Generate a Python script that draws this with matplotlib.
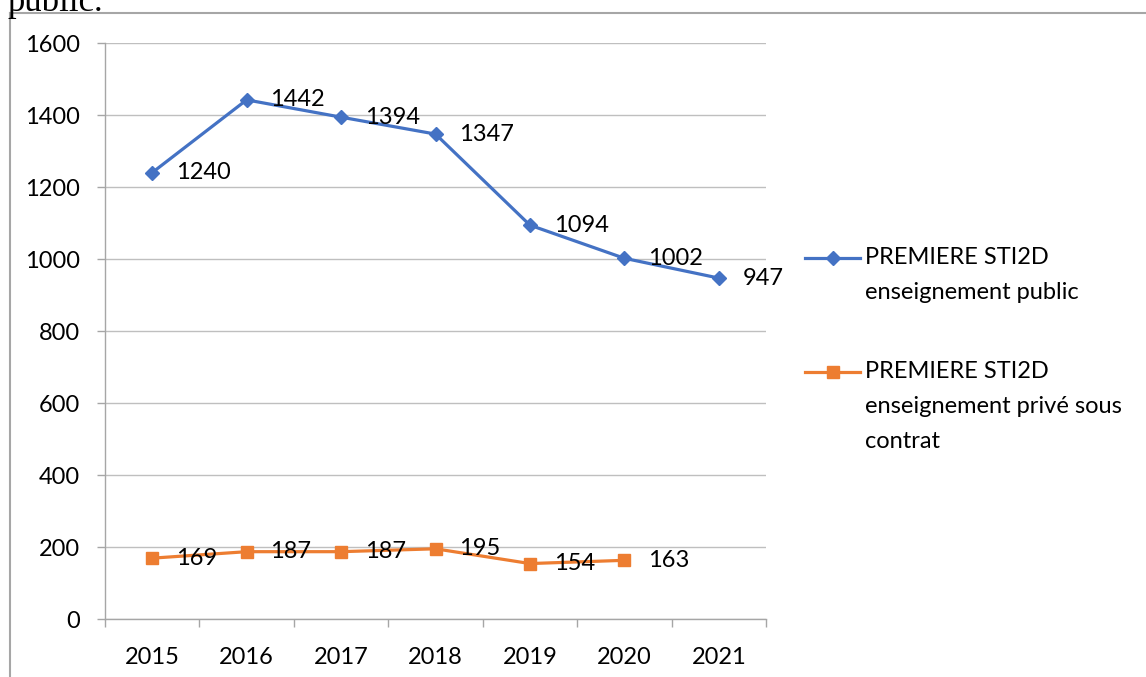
import matplotlib.pyplot as plt
from matplotlib.lines import Line2D

years = ['2015', '2016', '2017', '2018', '2019', '2020', '2021']
public = [1240, 1442, 1394, 1347, 1094, 1002, 947]
prive = [169, 187, 187, 195, 154, 163]
label_public = ['PREMIERE STI2D', 'enseignement public']
label_prive = ['PREMIERE STI2D', 'enseignement privé sous', 'contrat']

blue = '#4472C4'
orange = '#ED7D31'
grid_col = '#BFBFBF'
axis_col = '#A6A6A6'

plt.rcParams['font.family'] = ['Lato', 'DejaVu Sans']
fs = 17

W, H = 1146, 677
fig = plt.figure(figsize=(W / 100, H / 100), dpi=100)
ax = fig.add_axes([105 / W, 1 - 619 / H, (766 - 105) / W, (619 - 43) / H])

x_pub = list(range(len(public)))
x_pri = list(range(len(prive)))
ax.plot(x_pub, public, color=blue, lw=2.3, marker='D', ms=7.5, zorder=3)
ax.plot(x_pri, prive, color=orange, lw=2.3, marker='s', ms=8.5, zorder=3)

for xi, v in zip(x_pub, public):
    ax.annotate(str(v), (xi, v), xytext=(17, 0), textcoords='offset points',
                va='center', ha='left', fontsize=fs, color='black')
for xi, v in zip(x_pri, prive):
    ax.annotate(str(v), (xi, v), xytext=(17, 0), textcoords='offset points',
                va='center', ha='left', fontsize=fs, color='black')

ax.set_xlim(-0.5, len(years) - 0.5)
ax.set_ylim(0, 1600)
ax.set_yticks(range(0, 1601, 200))
ax.set_xticks([i - 0.5 for i in range(len(years) + 1)])
ax.set_xticklabels([])
ax.set_xticks(range(len(years)), minor=True)
ax.set_xticklabels(years, minor=True)
ax.tick_params(axis='x', which='major', length=6, color=axis_col, width=1)
ax.tick_params(axis='x', which='minor', length=0, labelsize=fs, pad=20)
ax.tick_params(axis='y', length=6, color=axis_col, width=1, labelsize=fs, pad=12)
ax.grid(axis='y', color=grid_col, lw=1)
ax.set_axisbelow(True)
for s in ['top', 'right']:
    ax.spines[s].set_visible(False)
for s in ['left', 'bottom']:
    ax.spines[s].set_color(axis_col)
    ax.spines[s].set_linewidth(1)

# legend drawn by hand so the line sits on the first text line
def legend_entry(y_px, color, marker, ms, lines):
    y = 1 - y_px / H
    fig.add_artist(Line2D([805 / W, 860 / W], [y, y], color=color, lw=2.3,
                          transform=fig.transFigure))
    fig.add_artist(Line2D([832.5 / W], [y], color=color, marker=marker, ms=ms,
                          transform=fig.transFigure))
    for k, t in enumerate(lines):
        fig.text(865 / W, 1 - (y_px + k * 34.5) / H, t, fontsize=fs,
                 va='center', ha='left')

legend_entry(258, blue, 'D', 7.5, label_public)
legend_entry(372, orange, 's', 8.5, label_prive)

# frame of the surrounding document object
fig.add_artist(Line2D([10 / W, 1], [1 - 13 / H, 1 - 13 / H], color=axis_col, lw=1.5,
                      transform=fig.transFigure))
fig.add_artist(Line2D([10 / W, 10 / W], [0, 1 - 13 / H], color=axis_col, lw=1.5,
                      transform=fig.transFigure))
fig.text(8 / W, 1 - 11 / H, 'public.', fontsize=25, family='Liberation Serif',
         va='baseline', ha='left')

fig.savefig('out.png', dpi=100)
